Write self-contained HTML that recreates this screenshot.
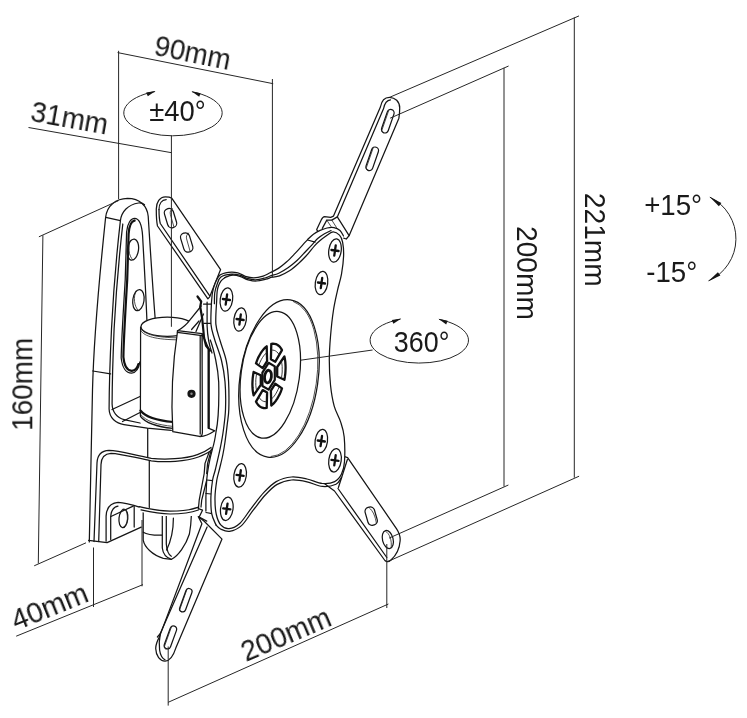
<!DOCTYPE html>
<html lang="en">
<head>
<meta charset="utf-8">
<title>Wall mount dimensions</title>
<style>
html,body{margin:0;padding:0;background:#fff;}
body{width:747px;height:718px;overflow:hidden;position:relative;}
svg{position:absolute;left:0;top:0;display:block;}
text{font-family:"Liberation Sans",sans-serif;fill:#1a1a1a;}
.dim{fill:none;stroke:#262626;stroke-width:1;}
.ln{fill:none;stroke:#151515;stroke-width:1.25;stroke-linecap:round;stroke-linejoin:round;}
.lt{fill:none;stroke:#222;stroke-width:0.8;stroke-linecap:round;stroke-linejoin:round;}
.lw{fill:#fff;stroke:#151515;stroke-width:1.25;stroke-linecap:round;stroke-linejoin:round;}
.lk{fill:none;stroke:#111;stroke-width:2.2;stroke-linecap:round;stroke-linejoin:round;}
.blk{fill:#151515;stroke:none;}
</style>
</head>
<body>
<svg width="747" height="718" viewBox="0 0 747 718">
<rect x="0" y="0" width="747" height="718" fill="#ffffff"/>

<g id="mount">
<!-- top-left arm (behind) -->
<g id="armTL">
  <path class="lw" d="M156.3,210 C156,202 160,197 165.4,196.9 C168,196.9 170.3,197.3 171.9,198.3 L220.6,269.6 L209.7,296.8 L207.9,298.8 L157.5,226 C156.6,222 156.3,216 156.3,210 Z"/>
  <path class="ln" d="M159,209.5 C159,203.5 162,199.8 166.2,199.6"/>
  <path class="ln" d="M159,209.5 C159,215 159.4,220 160.3,223.5 L209.7,295.9"/>
  <rect class="ln" x="-4.6" y="-9.8" width="9.2" height="19.6" rx="4.3" transform="translate(170.5,218.1) rotate(-17)"/>
  <path class="lt" d="M172.6,208.6 C170.4,210 169.8,212 170.4,214.5 L173.8,226.5"/>
  <rect class="ln" x="-4.6" y="-9.8" width="9.2" height="19.6" rx="4.3" transform="translate(186.7,242.5) rotate(-17)"/>
  <path class="lt" d="M188.8,233 C186.6,234.4 186,236.4 186.6,238.9 L190,250.9"/>
</g>

<!-- wall plate -->
<g id="wall">
  <path fill="#fff" stroke="none" d="M89.3,541.9 L92.5,390 C93.5,350 98,290 105.6,217.5 C107,205 116,198.8 127.5,198.4 C140,198.4 147.2,206 148.2,216.2 C150,245 152.5,285 155.2,317 L200,440 L210,520 L140,528 L105,544 Z"/>
  <path class="ln" d="M89.3,541.9 L92.5,390 C93.5,350 98,290 105.6,217.5 C107,205 116,198.8 127.5,198.4 C140,198.4 147.2,206 148.2,216.2 C150,245 152.5,285 155.2,319"/>
  <!-- chamfer / inner-left edge -->
  <path class="ln" d="M105.8,217.4 L120.4,220.6"/>
  <path class="ln" d="M120.4,220.6 C121.5,211.5 128,204.6 138.5,203 C141,202.7 143,203.3 144.5,204.8"/>
  <path class="ln" d="M120.4,220.6 C117,250 113,300 111.5,329 C110,360 109.2,380 109.1,409 C109.3,418 116,423.5 124,424.6 L147.2,428.2 L171.3,430.4"/>
  <!-- slot -->
  <path class="ln" d="M139.8,362 C139,368 136,372.6 131.5,373.2 C126.5,373 122.2,368 121.2,358 C121.4,340 123.4,310 125.2,280 C125.8,262 126.2,245 126.6,232 C127.4,223 131,218.3 134.6,218.3 C139,218.4 141.8,224 142.6,235.7 C143.6,255 145.5,285 146.9,320"/>
  <path class="lk" d="M138.4,364 C137.5,368 135,370.6 131.8,370.8 C127.5,370.6 124.2,366 123.4,357 C123.6,340 125.4,310 127.2,280 C127.8,262 128.2,245 128.6,234 C129.2,226 131.3,221 134.6,220.6"/>
  <path class="ln" d="M92.8,371 L110.6,373.8"/>
  <!-- holes -->
  <ellipse class="ln" cx="132.9" cy="249.6" rx="5.6" ry="10.6" transform="rotate(8 132.9 249.6)"/>
  <path class="lt" d="M130.6,240.2 C127.6,246 128.4,256 133,260"/>
  <ellipse class="ln" cx="138.4" cy="300.2" rx="5.6" ry="10.6" transform="rotate(8 138.4 300.2)"/>
  <path class="lt" d="M136.1,290.8 C133.1,296.6 133.9,306.6 138.5,310.6"/>
</g>

<!-- shelf detail lines (upper shelf) -->
<g id="shelf">
  <path class="ln" d="M122.8,224 C119.6,252 115.6,300 114.1,329 C112.8,360 112.2,380 112.1,404 C112.3,412 117,418 124,419.6 L140,423"/>
  <path class="ln" d="M112,409.5 L140,396.5"/>
  <path class="ln" d="M122.5,421.5 L140,412.5"/>
  <path class="ln" d="M147.7,428.4 L147.7,457.4"/>
</g>

<!-- lower bracket -->
<g id="bracket">
  <!-- top contour (double) -->
  <path class="ln" d="M94,541.5 L97,463 C97.3,455 101,450.6 109,450.3 C120,450.5 135,455.5 151.3,458.3 C165,460 185,459 197.4,454.6 C203,452.6 207,450.6 211,447.5"/>
  <path class="ln" d="M98.7,541.5 L101,464.5 C101.3,457.5 104.5,453.6 111,453.3 C122,453.6 136,458 151.3,460.8 C165,462.6 186,461.5 198.4,457 C204,455 208,453 211,450.6"/>
  <path class="ln" d="M149.3,460.5 L149.3,507.5"/>
  <!-- bottom edge -->
  <path class="ln" d="M88.6,540.4 L107.1,542.6 L141.2,527.1"/>
  <path class="ln" d="M106.1,541.2 L106.1,516.1 C106.5,508 111,503 118.1,502.4 C124,502.6 133,505 141,507.6"/>
  <path class="ln" d="M110.7,539.5 L110.7,517 C111,511 113.5,507 118,506.2 "/>
  <path class="ln" d="M110.9,516.5 L133.2,506.1"/>
  <path class="ln" d="M134.2,506.5 L134.2,527.1"/>
  <ellipse class="ln" cx="123.4" cy="518.4" rx="4.4" ry="9.2" transform="rotate(6 123.4 518.4)"/>
  <path class="lt" d="M125.4,509.6 C128.4,514 128.2,523.5 124.4,527.8"/>
</g>

<!-- lower cylinder end (below bracket) -->
<g id="cylLow">
  <path fill="#fff" stroke="none" d="M143.2,509 L143.2,540.2 C144.5,547 152,555 163.3,558.3 L171.5,559.3 L171.5,509 Z"/>
  <path class="ln" d="M143.2,509 L143.2,540.2 C144.5,547 152,555 163.3,558.3 L171.5,559.3"/>
  <path class="ln" d="M143.2,532.2 C147,534.6 154,535.4 162.3,535.2"/>
  <path class="lw" d="M162.3,515 L162.3,548 C163,554 167,558 171.5,559.3 C178,556 186,545 189.4,534 C190.5,528 191.2,520 191.4,515 Z"/>
  <path class="ln" d="M166.3,515 L166.3,544 C166.8,550 169,555 171.3,556.3"/>
  <path class="ln" d="M173.4,518 C173.4,528 171,541 166.6,550"/>
  <!-- bottom shelf front edge -->
  <path fill="#fff" stroke="none" d="M139.1,506.6 C148,508.8 158,511 170,511.2 C182,511.2 193,509.5 198.6,507.2 L198.4,512 L192,516 L162,516 L141,512 Z"/>
  <path class="ln" d="M139.1,506.6 C148,508.8 158,511 170,511.2 C182,511.2 192,509.6 198.6,507.2"/>
  <path class="ln" d="M141,509.8 C150,511.8 160,513.8 170,514 C182,514 192,512.4 198.4,510"/>
</g>

<!-- cylinder -->
<g id="cyl">
  <path fill="#fff" stroke="none" d="M140.6,327 L140.2,413.8 C146,423.5 157,426.8 175,428.6 L185,428 L185,327 Z"/>
  <path class="ln" d="M140.6,327 L140.4,416"/>
  <path class="ln" d="M140.6,416.5 C146,423.5 157,426.8 173,428.4"/>
  <path class="lt" d="M140.2,414 C146,421.5 157,424.8 173,426.4"/>
  <path class="lk" d="M140.4,410.5 C146,417.5 157,420.5 173,422"/>
  <ellipse class="lw" cx="167.3" cy="326.7" rx="26.3" ry="9.6"/>
  <path class="lt" d="M141,328.6 C143,333 152,337.4 176,337.8"/>
  <path class="lt" d="M141,330.6 C143,335 152,339.4 176,339.8"/>
</g>

<!-- strap from hinge to box -->
<g id="strap">
  <path fill="#fff" stroke="none" d="M201,306.5 L190,319.8 C187,324 183.5,327.3 177.1,331 L202.5,334.6 L205,312 Z"/>
  <path class="ln" d="M201.2,306 L190,319.8 C187,324 183.5,327.3 177.3,331"/>
  <path class="ln" d="M203.5,314 L196,331.5"/>
  <path class="ln" d="M199,321 L191.6,329.5"/>
</g>

<!-- box -->
<g id="box">
  <path class="lw" d="M202,333.6 L208.9,349 L208.9,428.4 L214.8,430.8 C210,434 205,436.4 200,436.6 Z"/>
  <path class="lk" d="M208.6,350 L208.6,428"/>
  <path class="lw" d="M177.6,330.6 L202,333.6 L202.4,432 C202.4,435 201.6,436.6 199.5,436.4 L172.8,431.6 C171.2,405 171.6,370 177.6,330.6 Z"/>
  <path class="ln" d="M200.2,336 L200.2,434"/>
  <path class="ln" d="M177.4,332.4 L202,335.6" stroke-width="1.6"/>
  <circle class="blk" cx="191.5" cy="393.8" r="4.1"/>
  <circle cx="191.5" cy="393.8" r="1.2" fill="#888"/>
</g>

<!-- hinge between box and plate -->
<g id="hinge">
  <path class="ln" d="M207.1,302 L207.1,326 C207.5,336 209,345 212,353"/>
  <path class="ln" d="M203.5,304 L215,304 M204,323.4 L214,323.4"/>
  <path class="lk" d="M197.5,296.5 L201.2,301.5 L200.2,306.8 L202.2,318.5 L204.1,338 L206.1,345.9 L210,350.7"/>
  <path class="ln" d="M210.3,340 C214,350 218,368 218.7,382 C219,395 218.5,420 216,432 C215,439 214,444 212.6,448.4 C210,458 207.5,470 206.7,480 L205.9,497 L205.9,511"/>
  <path class="ln" d="M206.7,480 L212.8,480.6 M206,493.5 L211.2,494 M206,512.5 L211.9,513.6"/>
  <path class="ln" d="M211.5,449 L207.6,463.4 L206.7,473.5"/>
  <path class="ln" d="M209.2,452 L205,463.4 L204.2,473.5 L199.2,500.2 L198.4,508.6"/>
  <path class="ln" d="M206.5,481 L201.7,500.2 L201,507"/>
  <path class="ln" d="M198.4,508.6 L202.5,510.2 L199.2,517 L206.7,521.1"/>
</g>


<!-- top-right arm -->
<g id="armTR">
  <path class="lw" d="M316.7,229.6 L321.2,220.1 C322.5,217.5 323.5,216.7 324.5,216.7 L330.7,217.3 L333.4,216.2 L380.4,107 C381.5,101 385,97.2 389.6,97.3 C395,97.5 399.8,101.5 399.7,108 C399.7,112 399.3,115.5 398.9,118.2 L349.1,235.7 L346.3,239 L342.9,237.9 L335,246 L322,238 Z"/>
  <path class="ln" d="M322.3,228.4 L326.8,220.1 L331.8,220.1 L337.3,216.9 L383.6,108.5 C384.6,103.5 387,100.3 390.5,99.9"/>
  <path class="ln" d="M337.3,216.9 L349.1,235.7"/>
  <path class="lt" d="M326.8,220.1 L331,226.5 M331.8,220.1 L336.5,227.5"/>
  <rect class="ln" x="-3.5" y="-12.2" width="7" height="24.4" rx="3.5" transform="translate(387.8,121.2) rotate(19)"/>
  <path class="lt" d="M388.6,110.8 L381.9,130.2 C381.7,131.6 382.6,132.8 383.6,133"/>
  <rect class="ln" x="-3.5" y="-12.2" width="7" height="24.4" rx="3.5" transform="translate(372.2,158.8) rotate(19)"/>
  <path class="lt" d="M373,148.4 L366.3,167.8 C366.1,169.2 367,170.4 368,170.6"/>
</g>

<!-- bottom-left arm -->
<g id="armBL">
  <path class="lw" d="M198.3,516.6 L204.2,521.3 L222,539.1 L175.8,648.1 C173.6,655 170,661 165.1,661.1 C160,661.2 156,656 155.7,648.5 C155.8,644 157.5,640.5 159.2,637.4 L201.9,523.7 Z"/>
  <path class="ln" d="M207.1,527 L160.4,633.3 C159.4,638 159,645 159.6,650 C160.3,655 162.5,658.5 165,659.8"/>
  <path class="ln" d="M160.4,633.3 L157.4,637"/>
  <rect class="ln" x="-3.1" y="-12.2" width="6.2" height="24.4" rx="3.1" transform="translate(185.8,600.2) rotate(20)"/>
  <path class="lt" d="M186.8,589.8 L179.8,609.4 C179.6,610.6 180.3,611.8 181.4,612"/>
  <rect class="ln" x="-3.3" y="-12" width="6.6" height="24" rx="3.3" transform="translate(170.4,637.4) rotate(20)"/>
  <path class="lt" d="M171.4,627 L164.4,646.6 C164.2,647.8 164.9,649 166,649.2"/>
</g>

<!-- bottom-right arm -->
<g id="armBR">
  <path class="lw" d="M347.6,457.6 L396.6,528.8 C399.3,533 400.6,537 400.1,541 C399.6,548 396.5,555 391,560 C389,561.8 386.5,562 384.9,560.5 L334.5,491 L325,484 L340,455 Z"/>
  <path class="ln" d="M338,488.5 L386.8,557.5"/>
  <path class="ln" d="M347.4,459.5 L338.4,487.5"/>
  <rect class="ln" x="-4.8" y="-9.2" width="9.6" height="18.4" rx="4.2" transform="translate(371.2,516.1) rotate(-16)"/>
  <path class="lt" d="M369.5,508 C372.5,510.5 375.5,516 376.4,523.6"/>
  <ellipse class="ln" cx="387.8" cy="539.5" rx="5.3" ry="9.2" transform="rotate(-14 387.8 539.5)"/>
  <path class="lt" d="M385.8,531.4 C389.5,533.5 392,540 391.2,547.4"/>
</g>

<g id="plate">
<path fill="#fff" stroke="none" d="M211.5,302.0 C211.7,300.4 211.9,295.6 212.5,292.5 C213.1,289.4 214.1,286.0 215.3,283.1 C216.6,280.2 217.8,276.9 220.0,275.1 C222.2,273.3 225.4,272.7 228.4,272.3 C231.4,271.9 235.0,272.1 237.8,272.8 C240.6,273.5 242.7,275.5 245.3,276.3 C248.0,277.1 250.7,277.8 253.7,277.8 C256.7,277.8 260.4,276.9 263.1,276.1 C265.8,275.3 267.4,274.1 270.0,272.8 C272.6,271.5 275.6,270.2 278.4,268.4 C281.2,266.6 283.9,264.3 286.7,261.8 C289.5,259.3 292.3,256.3 295.1,253.4 C297.9,250.5 301.3,246.5 303.4,244.2 C305.5,241.9 305.9,241.3 307.6,239.6 C309.3,237.9 311.3,235.7 313.4,234.2 C315.5,232.7 317.8,231.4 320.1,230.4 C322.4,229.4 324.7,228.5 327.0,228.0 C329.3,227.5 331.8,227.2 334.0,227.6 C336.2,228.0 338.4,229.1 340.0,230.5 C341.6,231.9 343.1,234.1 343.5,236.0 C343.9,237.9 342.6,238.8 342.6,242.1 C342.6,245.4 343.8,250.8 343.6,256.1 C343.4,261.5 342.5,268.5 341.5,274.2 C340.5,279.9 338.8,284.3 337.5,290.3 C336.2,296.3 334.7,302.3 333.5,310.0 C332.3,317.7 331.2,328.2 330.5,336.5 C329.8,344.8 329.3,351.9 329.3,360.0 C329.3,368.1 329.7,377.3 330.5,385.0 C331.3,392.7 332.5,399.9 334.2,406.1 C335.9,412.3 339.0,417.0 340.7,422.1 C342.4,427.2 343.6,430.4 344.2,437.0 C344.8,443.6 344.9,455.4 344.5,461.6 C344.1,467.8 343.1,470.7 341.5,474.0 C339.9,477.3 337.9,480.0 334.7,481.6 C331.5,483.2 327.0,483.9 322.4,483.5 C317.8,483.1 312.1,480.1 307.0,479.0 C301.9,477.9 296.7,476.6 291.6,477.0 C286.5,477.4 280.8,479.0 276.2,481.6 C271.6,484.2 268.0,488.0 263.9,492.4 C259.8,496.8 255.6,502.7 251.6,507.8 C247.6,512.9 243.8,519.7 240.0,523.2 C236.2,526.7 232.2,528.3 229.0,528.6 C225.8,528.9 223.9,527.7 221.0,525.2 C218.1,522.7 213.4,518.3 211.7,513.6 C210.0,508.9 210.8,502.6 210.9,497.0 C211.1,491.4 211.8,484.7 212.6,480.0 C213.4,475.3 214.2,474.5 215.5,469.0 C216.8,463.5 219.2,453.4 220.5,446.9 C221.8,440.4 222.6,436.2 223.4,430.0 C224.2,423.8 225.2,417.6 225.5,409.6 C225.8,401.6 225.7,390.0 225.0,381.8 C224.3,373.6 223.2,367.6 221.5,360.5 C219.8,353.4 216.2,345.0 214.5,339.0 C212.8,333.0 211.5,330.6 211.0,324.4 C210.5,318.2 211.4,305.7 211.5,302.0 C211.6,298.3 211.3,303.6 211.5,302.0 Z"/>
<path class="ln" stroke-width="1.9" d="M211.5,302.0 C211.7,300.4 211.9,295.6 212.5,292.5 C213.1,289.4 214.1,286.0 215.3,283.1 C216.6,280.2 217.8,276.9 220.0,275.1 C222.2,273.3 225.4,272.7 228.4,272.3 C231.4,271.9 235.0,272.1 237.8,272.8 C240.6,273.5 242.7,275.5 245.3,276.3 C248.0,277.1 250.7,277.8 253.7,277.8 C256.7,277.8 260.4,276.9 263.1,276.1 C265.8,275.3 267.4,274.1 270.0,272.8 C272.6,271.5 275.6,270.2 278.4,268.4 C281.2,266.6 283.9,264.3 286.7,261.8 C289.5,259.3 292.3,256.3 295.1,253.4 C297.9,250.5 301.3,246.5 303.4,244.2 C305.5,241.9 305.9,241.3 307.6,239.6 C309.3,237.9 311.3,235.7 313.4,234.2 C315.5,232.7 317.8,231.4 320.1,230.4 C322.4,229.4 324.7,228.5 327.0,228.0 C329.3,227.5 331.8,227.2 334.0,227.6 C336.2,228.0 338.4,229.1 340.0,230.5 C341.6,231.9 342.9,235.1 343.5,236.0"/>
<path class="ln" d="M214.4,303.7 C214.5,301.8 214.3,295.8 214.8,292.5 C215.3,289.2 216.2,286.6 217.2,284.0 C218.2,281.4 218.6,278.6 220.9,277.0 C223.2,275.4 228.1,274.5 231.2,274.2 C234.3,273.9 237.0,274.5 239.7,275.2 C242.4,275.9 244.5,277.6 247.2,278.4 C249.8,279.2 252.6,279.9 255.6,279.8 C258.6,279.7 262.6,278.6 265.0,278.0 C267.4,277.4 267.7,276.8 270.0,276.0 C272.3,275.2 275.8,274.6 278.8,273.2 C281.8,271.8 285.0,269.9 288.0,267.8 C291.0,265.7 294.1,263.1 297.0,260.5 C299.9,257.9 302.5,254.9 305.2,252.0 C307.9,249.1 311.2,245.6 313.3,243.3 C315.4,241.0 316.1,239.9 318.0,238.3 C319.9,236.7 322.3,235.1 324.5,233.8 C326.7,232.5 329.9,231.1 331.0,230.6"/>
<path class="ln" d="M307.6,240 L315.1,242.1 M224.6,277.6 L232.8,274.6"/>
<path class="ln" d="M211.5,302.0 C211.4,305.7 210.5,318.2 211.0,324.4 C211.5,330.6 212.8,333.0 214.5,339.0 C216.2,345.0 219.8,353.4 221.5,360.5 C223.2,367.6 224.3,373.6 225.0,381.8 C225.7,390.0 225.8,401.6 225.5,409.6 C225.2,417.6 224.2,423.8 223.4,430.0 C222.6,436.2 221.8,440.4 220.5,446.9 C219.2,453.4 216.8,463.5 215.5,469.0 C214.2,474.5 213.4,475.3 212.6,480.0 C211.8,484.7 211.1,491.4 210.9,497.0 C210.8,502.6 210.8,508.9 211.7,513.6 C212.5,518.3 215.3,523.1 216.0,525.0"/>
<path class="ln" d="M341.5,477.5 C340.6,478.6 339.2,482.7 336.0,484.2 C332.8,485.7 327.2,486.8 322.4,486.4 C317.6,486.0 312.1,482.9 307.0,481.8 C301.9,480.7 296.6,479.6 291.6,480.0 C286.6,480.4 281.6,481.9 277.2,484.4 C272.8,486.9 269.5,490.5 265.5,494.8 C261.5,499.1 257.2,505.1 253.2,510.2 C249.2,515.3 245.4,522.1 241.5,525.6 C237.6,529.1 233.0,530.8 229.5,531.4 C226.0,532.0 222.8,530.1 220.5,529.0 C218.2,527.9 216.8,525.7 216.0,525.0"/>
<path class="lw" d="M216.7,300.0 C216.9,294.4 216.9,293.4 217.2,291.0 C217.5,288.6 218.0,287.1 218.6,285.5 C219.2,283.9 220.1,282.4 220.9,281.2 C221.8,280.0 222.5,279.2 223.7,278.4 C224.9,277.6 226.4,276.8 228.0,276.3 C229.6,275.8 231.0,275.1 233.1,275.2 C235.2,275.2 238.1,275.8 240.6,276.6 C243.1,277.4 245.4,279.1 248.1,279.8 C250.8,280.5 253.5,281.1 256.5,281.0 C259.5,280.9 263.3,279.8 265.9,279.2 C268.5,278.6 269.7,277.8 272.0,277.2 C274.3,276.6 276.6,276.9 279.5,275.8 C282.4,274.7 286.3,272.9 289.5,270.8 C292.7,268.8 295.7,266.1 298.5,263.5 C301.3,260.9 303.8,258.4 306.5,255.5 C309.2,252.6 312.3,248.2 314.5,245.8 C316.7,243.4 317.6,242.6 319.5,241.0 C321.4,239.4 323.8,237.5 326.0,236.0 C328.2,234.5 330.8,232.0 333.0,231.8 C335.2,231.7 337.9,233.4 339.5,235.1 C341.1,236.8 341.9,238.6 342.6,242.1 C343.3,245.6 343.8,250.8 343.6,256.1 C343.4,261.5 342.5,268.5 341.5,274.2 C340.5,279.9 338.8,284.3 337.5,290.3 C336.2,296.3 334.7,302.3 333.5,310.0 C332.3,317.7 331.2,328.2 330.5,336.5 C329.8,344.8 329.3,351.9 329.3,360.0 C329.3,368.1 329.7,377.3 330.5,385.0 C331.3,392.7 332.5,399.9 334.2,406.1 C335.9,412.3 339.0,417.0 340.7,422.1 C342.4,427.2 343.6,430.4 344.2,437.0 C344.8,443.6 344.9,455.4 344.5,461.6 C344.1,467.8 343.1,470.7 341.5,474.0 C339.9,477.3 337.9,480.0 334.7,481.6 C331.5,483.2 327.0,483.9 322.4,483.5 C317.8,483.1 312.1,480.1 307.0,479.0 C301.9,477.9 296.7,476.6 291.6,477.0 C286.5,477.4 280.8,479.0 276.2,481.6 C271.6,484.2 268.0,488.0 263.9,492.4 C259.8,496.8 255.6,502.7 251.6,507.8 C247.6,512.9 243.8,519.7 240.0,523.2 C236.2,526.7 232.2,528.3 229.0,528.6 C225.8,528.9 223.1,527.6 221.0,525.2 C218.9,522.8 217.2,518.7 216.2,514.0 C215.2,509.3 214.9,502.7 215.0,497.0 C215.1,491.3 216.1,484.7 216.8,480.0 C217.6,475.3 218.5,473.2 219.5,469.0 C220.5,464.8 221.9,459.5 222.8,455.0 C223.7,450.5 224.3,447.1 225.0,442.0 C225.7,436.9 226.6,430.0 227.2,424.6 C227.8,419.2 228.6,416.7 228.8,409.6 C229.0,402.5 229.0,389.9 228.6,381.8 C228.2,373.7 227.7,367.8 226.3,361.0 C224.9,354.2 221.9,347.1 220.2,341.0 C218.5,334.9 216.5,331.2 215.9,324.4 C215.3,317.6 216.5,305.6 216.7,300.0 Z"/>
<ellipse class="ln" cx="279" cy="378.5" rx="39" ry="79.4" transform="rotate(8.2 279 378.5)"/>
<path class="lt" d="M293.4,301.5 A37.6,78.6 8.2 0 1 271.1,456.5"/>
<ellipse class="lw" cx="270.3" cy="374.8" rx="29.2" ry="63.8" transform="rotate(7.8 270.3 374.8)"/>
<path d="M271.3,343.9 L272.9,343.7 L274.4,343.8 L275.9,344.1 L277.3,344.8 L278.6,345.7 L279.9,346.9 L281.0,348.4 L282.0,350.1 L275.3,361.7 L270.9,359.2 Z" fill="#fff" stroke="#111" stroke-width="2.3" stroke-linejoin="round"/>
<path d="M271.5,350.2 L272.9,350.1 L274.3,350.4 L275.6,351.0 L276.8,351.9 L278.0,353.0 L279.0,354.5" fill="none" stroke="#222" stroke-width="0.9"/>
<path d="M284.4,356.5 L284.9,359.0 L285.3,361.7 L285.5,364.6 L285.6,367.5 L285.5,370.5 L285.3,373.6 L284.9,376.7 L284.4,379.8 L277.2,376.5 L277.2,367.0 Z" fill="#fff" stroke="#111" stroke-width="2.3" stroke-linejoin="round"/>
<path d="M281.5,361.4 L281.9,363.9 L282.2,366.5 L282.2,369.2 L282.2,372.0 L281.9,374.8 L281.5,377.6" fill="none" stroke="#222" stroke-width="0.9"/>
<path d="M282.0,388.4 L281.0,391.2 L279.9,393.9 L278.6,396.3 L277.3,398.6 L275.9,400.7 L274.4,402.6 L272.9,404.2 L271.3,405.5 L270.9,390.7 L275.3,383.7 Z" fill="#fff" stroke="#111" stroke-width="2.3" stroke-linejoin="round"/>
<path d="M279.0,387.2 L278.0,389.6 L276.8,392.0 L275.6,394.1 L274.3,396.0 L272.9,397.7 L271.5,399.0" fill="none" stroke="#222" stroke-width="0.9"/>
<path d="M266.7,407.9 L265.1,408.1 L263.6,408.0 L262.1,407.7 L260.7,407.0 L259.4,406.1 L258.1,404.9 L257.0,403.4 L256.0,401.7 L262.7,390.1 L267.1,392.6 Z" fill="#fff" stroke="#111" stroke-width="2.3" stroke-linejoin="round"/>
<path d="M266.5,401.6 L265.1,401.7 L263.7,401.4 L262.4,400.8 L261.2,399.9 L260.0,398.8 L259.0,397.3" fill="none" stroke="#222" stroke-width="0.9"/>
<path d="M253.6,395.3 L253.1,392.8 L252.7,390.1 L252.5,387.2 L252.4,384.3 L252.5,381.3 L252.7,378.2 L253.1,375.1 L253.6,372.0 L260.8,375.3 L260.8,384.8 Z" fill="#fff" stroke="#111" stroke-width="2.3" stroke-linejoin="round"/>
<path d="M256.5,390.4 L256.1,387.9 L255.8,385.3 L255.8,382.6 L255.8,379.8 L256.1,377.0 L256.5,374.2" fill="none" stroke="#222" stroke-width="0.9"/>
<path d="M256.0,363.4 L257.0,360.6 L258.1,357.9 L259.4,355.5 L260.7,353.2 L262.1,351.1 L263.6,349.2 L265.1,347.6 L266.7,346.3 L267.1,361.1 L262.7,368.1 Z" fill="#fff" stroke="#111" stroke-width="2.3" stroke-linejoin="round"/>
<path d="M259.0,364.6 L260.0,362.2 L261.2,359.8 L262.4,357.7 L263.7,355.8 L265.1,354.1 L266.5,352.8" fill="none" stroke="#222" stroke-width="0.9"/>
<path d="M274.8,366.4 L274.8,379.8 L268.6,389.6 L262.4,386.0 L262.4,372.6 L268.6,362.8 Z" fill="#fff" stroke="#111" stroke-width="2.2" stroke-linejoin="round"/>
<ellipse cx="268" cy="376.6" rx="3.4" ry="6.4" fill="#fff" stroke="#111" stroke-width="2.8" transform="rotate(8 268 376.6)"/>
<g transform="translate(226.4,299.5) rotate(8)"><ellipse class="lw" cx="0" cy="0" rx="6.2" ry="11.8"/><path d="M0,-5.2 V5.2 M-3.6,0 H3.6" stroke="#111" stroke-width="2.3" stroke-linecap="round" fill="none"/></g>
<g transform="translate(240.1,319.5) rotate(8)"><ellipse class="lw" cx="0" cy="0" rx="6.2" ry="11.8"/><path d="M0,-5.2 V5.2 M-3.6,0 H3.6" stroke="#111" stroke-width="2.3" stroke-linecap="round" fill="none"/></g>
<g transform="translate(335.0,250.5) rotate(8)"><ellipse class="lw" cx="0" cy="0" rx="6.2" ry="11.8"/><path d="M0,-5.2 V5.2 M-3.6,0 H3.6" stroke="#111" stroke-width="2.3" stroke-linecap="round" fill="none"/></g>
<g transform="translate(321.5,283.0) rotate(8)"><ellipse class="lw" cx="0" cy="0" rx="6.2" ry="11.8"/><path d="M0,-5.2 V5.2 M-3.6,0 H3.6" stroke="#111" stroke-width="2.3" stroke-linecap="round" fill="none"/></g>
<g transform="translate(321.3,441.0) rotate(8)"><ellipse class="lw" cx="0" cy="0" rx="6.2" ry="11.8"/><path d="M0,-5.2 V5.2 M-3.6,0 H3.6" stroke="#111" stroke-width="2.3" stroke-linecap="round" fill="none"/></g>
<g transform="translate(335.0,460.3) rotate(8)"><ellipse class="lw" cx="0" cy="0" rx="6.2" ry="11.8"/><path d="M0,-5.2 V5.2 M-3.6,0 H3.6" stroke="#111" stroke-width="2.3" stroke-linecap="round" fill="none"/></g>
<g transform="translate(240.1,475.4) rotate(8)"><ellipse class="lw" cx="0" cy="0" rx="6.2" ry="11.8"/><path d="M0,-5.2 V5.2 M-3.6,0 H3.6" stroke="#111" stroke-width="2.3" stroke-linecap="round" fill="none"/></g>
<g transform="translate(226.8,508.8) rotate(8)"><ellipse class="lw" cx="0" cy="0" rx="6.2" ry="11.8"/><path d="M0,-5.2 V5.2 M-3.6,0 H3.6" stroke="#111" stroke-width="2.3" stroke-linecap="round" fill="none"/></g>
</g>

</g>
<!-- ================= DIMENSION LINES ================= -->
<g id="dims" class="dim">
  <!-- 90mm -->
  <path d="M118.6,50.8 V199"/>
  <path d="M272.4,79 V277.5"/>
  <path d="M117.6,52.6 L273.2,83.7"/>
  <!-- 31mm -->
  <path d="M28.5,127.5 L171.5,152.7"/>
  <path d="M171.4,135.5 V326.8"/>
  <!-- 160mm -->
  <path d="M42.9,235.3 L38.3,563.5"/>
  <path d="M38.9,236.8 L118.6,200.6"/>
  <path d="M34.2,565.8 L86,542.8"/>
  <!-- 40mm -->
  <path d="M93.5,547.5 V607"/>
  <path d="M142,520 V586.3"/>
  <path d="M16.2,636.2 L143,584.6"/>
  <!-- 200mm bottom -->
  <path d="M168.2,646.5 V705.6"/>
  <path d="M386.8,544 V608"/>
  <path d="M168.2,702.3 L388.4,604"/>
  <!-- 200mm right -->
  <path d="M390.1,118.2 L508.6,66"/>
  <path d="M504,67.8 V486.5"/>
  <path d="M389.1,538.1 L508.4,485"/>
  <!-- 221mm -->
  <path d="M390.1,97.1 L579,15.9"/>
  <path d="M574.3,17.5 V477.7"/>
  <path d="M387.7,561.6 L579.1,476.2"/>
  <!-- 360 leader -->
  <path d="M300.7,360.2 L372.6,350"/>
</g>

<!-- ================= LABELS ================= -->
<g id="labels" opacity="0.999">
  <path class="dim" d="M154.9,91.6 A49.2,22.9 0 1 0 192.1,91.8"/>
  <path class="blk" d="M155.6,90.9 L146.2,92.4 L147.8,96.2 Z"/>
  <path class="blk" d="M191.4,91.2 L200.6,93.2 L199.2,96.8 Z"/>
  <text x="177.5" y="121.3" font-size="30" text-anchor="middle" textLength="56.5" lengthAdjust="spacingAndGlyphs">±40°</text>

  <path class="dim" d="M400.5,319.2 A49.2,22.8 0 1 0 439.1,319.4"/>
  <path class="blk" d="M401.2,318.4 L391.8,320 L393.4,323.8 Z"/>
  <path class="blk" d="M438.4,318.8 L447.6,320.8 L446.2,324.4 Z"/>
  <text x="421.6" y="352" font-size="30" text-anchor="middle" textLength="55.6" lengthAdjust="spacingAndGlyphs">360°</text>

  <text transform="translate(153,54.8) rotate(11.4)" font-size="30" textLength="77" lengthAdjust="spacingAndGlyphs">90mm</text>
  <text transform="translate(29.5,120.8) rotate(10.2)" font-size="30" textLength="78" lengthAdjust="spacingAndGlyphs">31mm</text>
  <text transform="translate(32.3,430.8) rotate(-90)" font-size="30" textLength="93" lengthAdjust="spacingAndGlyphs">160mm</text>
  <text transform="translate(16.2,630.8) rotate(-22)" font-size="30" textLength="80" lengthAdjust="spacingAndGlyphs">40mm</text>
  <text transform="translate(246,662) rotate(-23)" font-size="30" textLength="95" lengthAdjust="spacingAndGlyphs">200mm</text>
  <text transform="translate(517.3,226) rotate(90)" font-size="30" textLength="94" lengthAdjust="spacingAndGlyphs">200mm</text>
  <text transform="translate(584.6,192.8) rotate(90)" font-size="30" textLength="94" lengthAdjust="spacingAndGlyphs">221mm</text>
  <text x="644.2" y="214.8" font-size="30" textLength="58" lengthAdjust="spacingAndGlyphs">+15°</text>
  <text x="646.2" y="282.1" font-size="30" textLength="51" lengthAdjust="spacingAndGlyphs">-15°</text>
  <path class="dim" d="M709.9,197.2 A46.1,46.1 0 0 1 708.6,280.8"/>
  <path class="blk" d="M709.5,196.8 L721.4,203 L718.9,206.3 Z"/>
  <path class="blk" d="M708.2,281.2 L720.4,275.6 L717.9,272.2 Z"/>
</g>

</svg>
</body>
</html>
